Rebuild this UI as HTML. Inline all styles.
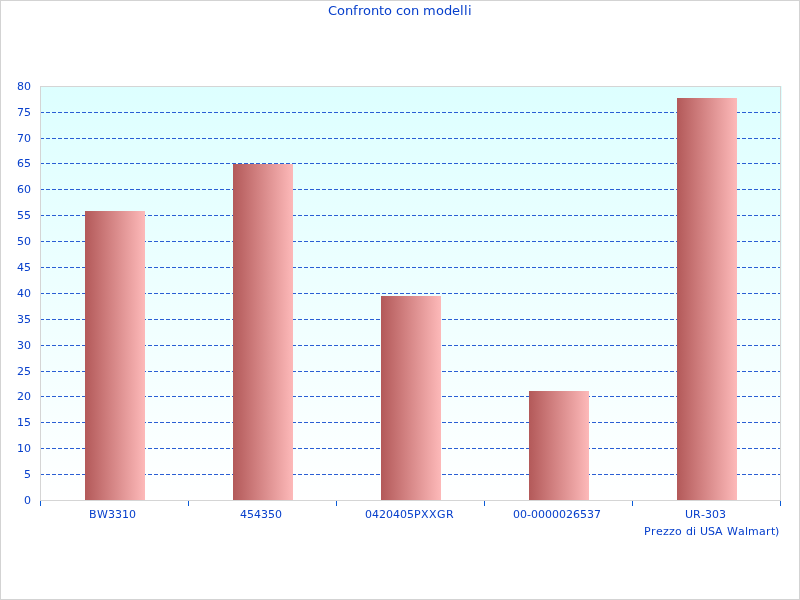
<!DOCTYPE html>
<html><head><meta charset="utf-8"><title>Confronto con modelli</title>
<style>
html,body{margin:0;padding:0;background:#fff;}
body{width:800px;height:600px;overflow:hidden;position:relative;}
svg{position:absolute;left:0;top:0;display:block;}
text{font-family:"DejaVu Sans","Liberation Sans",sans-serif;fill:#0840cc;white-space:pre;}
.t11{font-size:11px;}
.t13{font-size:13px;}
</style></head><body>
<svg width="800" height="600" viewBox="0 0 800 600">
<defs>
<linearGradient id="bg" x1="0" y1="0" x2="0" y2="1"><stop offset="0" stop-color="#ddffff"/><stop offset="1" stop-color="#ffffff"/></linearGradient>
<linearGradient id="bar" x1="0" y1="0" x2="1" y2="0"><stop offset="0" stop-color="#b35959"/><stop offset="1" stop-color="#fdb9b9"/></linearGradient>
</defs>
<rect x="0.5" y="0.5" width="799" height="599" fill="#fff" stroke="#d3d3d3" stroke-width="1"/>
<rect x="40" y="86" width="742" height="415" fill="url(#bg)"/>

<line x1="40" y1="474.5" x2="780" y2="474.5" stroke="#2a5fd4" stroke-width="1" stroke-dasharray="4,2" shape-rendering="crispEdges"/>
<line x1="40" y1="448.5" x2="780" y2="448.5" stroke="#2a5fd4" stroke-width="1" stroke-dasharray="4,2" shape-rendering="crispEdges"/>
<line x1="40" y1="422.5" x2="780" y2="422.5" stroke="#2a5fd4" stroke-width="1" stroke-dasharray="4,2" shape-rendering="crispEdges"/>
<line x1="40" y1="396.5" x2="780" y2="396.5" stroke="#2a5fd4" stroke-width="1" stroke-dasharray="4,2" shape-rendering="crispEdges"/>
<line x1="40" y1="371.5" x2="780" y2="371.5" stroke="#2a5fd4" stroke-width="1" stroke-dasharray="4,2" shape-rendering="crispEdges"/>
<line x1="40" y1="345.5" x2="780" y2="345.5" stroke="#2a5fd4" stroke-width="1" stroke-dasharray="4,2" shape-rendering="crispEdges"/>
<line x1="40" y1="319.5" x2="780" y2="319.5" stroke="#2a5fd4" stroke-width="1" stroke-dasharray="4,2" shape-rendering="crispEdges"/>
<line x1="40" y1="293.5" x2="780" y2="293.5" stroke="#2a5fd4" stroke-width="1" stroke-dasharray="4,2" shape-rendering="crispEdges"/>
<line x1="40" y1="267.5" x2="780" y2="267.5" stroke="#2a5fd4" stroke-width="1" stroke-dasharray="4,2" shape-rendering="crispEdges"/>
<line x1="40" y1="241.5" x2="780" y2="241.5" stroke="#2a5fd4" stroke-width="1" stroke-dasharray="4,2" shape-rendering="crispEdges"/>
<line x1="40" y1="215.5" x2="780" y2="215.5" stroke="#2a5fd4" stroke-width="1" stroke-dasharray="4,2" shape-rendering="crispEdges"/>
<line x1="40" y1="189.5" x2="780" y2="189.5" stroke="#2a5fd4" stroke-width="1" stroke-dasharray="4,2" shape-rendering="crispEdges"/>
<line x1="40" y1="163.5" x2="780" y2="163.5" stroke="#2a5fd4" stroke-width="1" stroke-dasharray="4,2" shape-rendering="crispEdges"/>
<line x1="40" y1="138.5" x2="780" y2="138.5" stroke="#2a5fd4" stroke-width="1" stroke-dasharray="4,2" shape-rendering="crispEdges"/>
<line x1="40" y1="112.5" x2="780" y2="112.5" stroke="#2a5fd4" stroke-width="1" stroke-dasharray="4,2" shape-rendering="crispEdges"/>
<rect x="85" y="211" width="60" height="289" fill="url(#bar)"/>
<rect x="233" y="164" width="60" height="336" fill="url(#bar)"/>
<rect x="381" y="296" width="60" height="204" fill="url(#bar)"/>
<rect x="529" y="391" width="60" height="109" fill="url(#bar)"/>
<rect x="677" y="98" width="60" height="402" fill="url(#bar)"/>
<rect x="40.5" y="86.5" width="740" height="414" fill="none" stroke="#d5d5d5" stroke-width="1"/>
<rect x="40" y="501" width="1" height="5" fill="#0b5bd6"/>
<rect x="188" y="501" width="1" height="5" fill="#0b5bd6"/>
<rect x="336" y="501" width="1" height="5" fill="#0b5bd6"/>
<rect x="484" y="501" width="1" height="5" fill="#0b5bd6"/>
<rect x="632" y="501" width="1" height="5" fill="#0b5bd6"/>
<rect x="780" y="501" width="1" height="5" fill="#0b5bd6"/>
<text class="t11" x="31" y="504" text-anchor="end">0</text>
<text class="t11" x="31" y="478" text-anchor="end">5</text>
<text class="t11" x="31" y="452" text-anchor="end">10</text>
<text class="t11" x="31" y="426" text-anchor="end">15</text>
<text class="t11" x="31" y="400" text-anchor="end">20</text>
<text class="t11" x="31" y="375" text-anchor="end">25</text>
<text class="t11" x="31" y="349" text-anchor="end">30</text>
<text class="t11" x="31" y="323" text-anchor="end">35</text>
<text class="t11" x="31" y="297" text-anchor="end">40</text>
<text class="t11" x="31" y="271" text-anchor="end">45</text>
<text class="t11" x="31" y="245" text-anchor="end">50</text>
<text class="t11" x="31" y="219" text-anchor="end">55</text>
<text class="t11" x="31" y="193" text-anchor="end">60</text>
<text class="t11" x="31" y="167" text-anchor="end">65</text>
<text class="t11" x="31" y="142" text-anchor="end">70</text>
<text class="t11" x="31" y="116" text-anchor="end">75</text>
<text class="t11" x="31" y="90" text-anchor="end">80</text>
<text class="t11" y="518" x="89 97 108 115 122 129">BW3310</text>
<text class="t11" y="518" x="240 247 254 261 268 275">454350</text>
<text class="t11" y="518" x="365 372 379 386 393 400 407 414 421 429 437 446">0420405PXXGR</text>
<text class="t11" y="518" x="513 520 527 531 538 545 552 559 566 573 580 587 594">00-0000026537</text>
<text class="t11" y="518" x="685 693 701 705 712 719">UR-303</text>
<text class="t11" y="535" x="644 651 656 663 669 675 682 686 693 696 700 708 715 723 727 738 745 748 759 766 771 775">Prezzo di USA Walmart)</text>
<text class="t13" y="15.4" x="328 337 345 353 358 363 371 379 384 392 396 403 411 419 423 436 444 452 460 464 468">Confronto con modelli</text>
</svg></body></html>
